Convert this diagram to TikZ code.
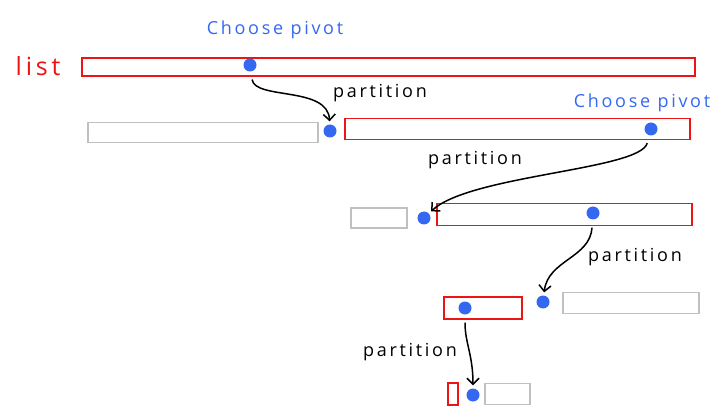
\documentclass[tikz,border=0pt]{standalone}
\usepackage{fontspec}
\newfontfamily\handfont[LetterSpace=15]{Open Sans}
\usetikzlibrary{arrows.meta}
\definecolor{listred}{RGB}{236,20,20}
\definecolor{pivotblue}{RGB}{52,104,240}
\definecolor{donegray}{RGB}{192,192,192}

\begin{document}
\begin{tikzpicture}[
  x=1pt, y=-1pt,
  sublist/.style={draw=listred, line width=1.7pt, inner sep=0pt, minimum height=20pt},
  donelist/.style={draw=donegray, line width=1.7pt, inner sep=0pt, minimum height=20pt},
  pivot/.style={circle, fill=pivotblue, inner sep=0pt, minimum size=13pt},
  note/.style={font=\handfont\fontsize{18}{20}\selectfont, inner sep=0pt},
  step line/.style={line width=1.5pt, ->, shorten <=8pt, shorten >=3pt},
  >={Straight Barb[length=6pt,width=12pt]}
]
\useasboundingbox (0,0) rectangle (721,409);

% Whole list
\node[note, text=listred, font=\handfont\fontsize{25}{28}\selectfont] (lbl) at (38,66) {list};
\node[sublist, minimum width=613pt, minimum height=18pt] (l0) at (388.5,67) {};
\node[pivot] (p0) at (250,65) {};
\node[note, text=pivotblue] (cp0) at (275,30) {Choose pivot};

% First partition
\node[donelist, minimum width=230pt] (g1) at (203,132.5) {};
\node[pivot] (p1) at (330,131) {};
\node[sublist, minimum width=345pt, minimum height=21pt] (l1) at (517.5,129) {};
\node[pivot] (p1b) at (651,129) {};
\node[note, text=pivotblue] (cp1) at (642,103) {Choose pivot};

% Second partition
\node[donelist, minimum width=56pt] (g2) at (379,218) {};
\node[pivot] (p2) at (424,218) {};
\node[sublist, minimum width=255pt, minimum height=22pt] (l2) at (564.5,214.5) {};
\node[pivot] (p2b) at (593,213) {};

% Third partition
\node[sublist, minimum width=78pt, minimum height=22pt] (l3) at (483,308) {};
\node[pivot] (p3a) at (465,308) {};
\node[pivot] (p3) at (543,302) {};
\node[donelist, minimum width=136pt, minimum height=21pt] (g3) at (631,303) {};

% Fourth partition
\node[sublist, minimum width=10pt, minimum height=22pt] (l4) at (453,394) {};
\node[pivot] (p4) at (473,395) {};
\node[donelist, minimum width=45pt, minimum height=21pt] (g4) at (507.5,394) {};

% Partition steps
\draw[step line] (p0) .. controls +(5,35) and +(-2,-45) .. (p1);
\draw[step line] (p1b) .. controls +(-11,41) and +(46,-43) .. (p2);
\draw[step line] (p2b) .. controls +(-3,45) and +(5,-42) .. (p3);
\draw[step line] (p3a) .. controls +(0,35) and +(0,-40) .. (p4);
\node[note] (s1) at (380,93) {partition};
\node[note] (s2) at (475,160) {partition};
\node[note] (s3) at (635,257) {partition};
\node[note] (s4) at (410,352) {partition};

\end{tikzpicture}
\end{document}
